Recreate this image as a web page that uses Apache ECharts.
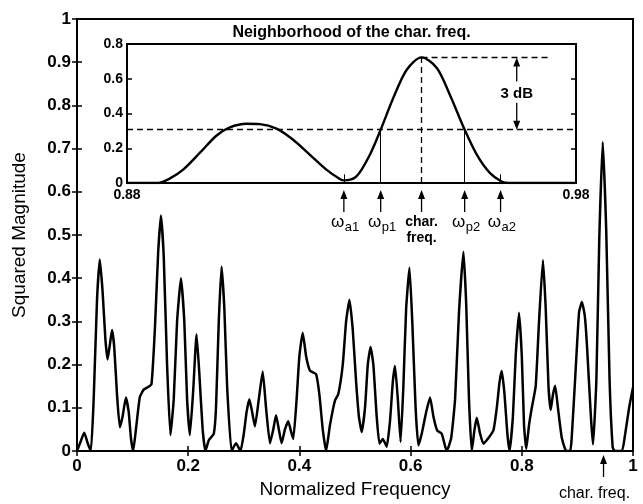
<!DOCTYPE html>
<html>
<head>
<meta charset="utf-8">
<script src="https://cdn.jsdelivr.net/npm/echarts@6/dist/echarts.min.js"></script>
<style>
  html, body { margin: 0; padding: 0; background: #fff; }
  #chart { width: 643px; height: 504px; }
</style>
</head>
<body>
<div id="chart"></div>
<script>
// full spectrum
var mainFreq = [0, 0.006, 0.013, 0.02, 0.025, 0.03, 0.036, 0.041, 0.046, 0.051, 0.055, 0.059, 0.063, 0.067, 0.072, 0.077,
  0.082, 0.088, 0.093, 0.097, 0.101, 0.106, 0.113, 0.12, 0.128, 0.134, 0.14, 0.146, 0.151, 0.156, 0.162, 0.168,
  0.174, 0.18, 0.187, 0.193, 0.198, 0.203, 0.209, 0.215, 0.22, 0.226, 0.231, 0.237, 0.246, 0.25, 0.255, 0.26,
  0.265, 0.27, 0.278, 0.286, 0.294, 0.3, 0.305, 0.31, 0.315, 0.32, 0.327, 0.334, 0.34, 0.347, 0.353, 0.358,
  0.363, 0.368, 0.374, 0.38, 0.385, 0.389, 0.395, 0.4, 0.406, 0.412, 0.419, 0.43, 0.436, 0.442, 0.448, 0.455,
  0.464, 0.47, 0.478, 0.484, 0.49, 0.496, 0.502, 0.507, 0.512, 0.518, 0.523, 0.528, 0.533, 0.539, 0.544, 0.55,
  0.557, 0.563, 0.568, 0.572, 0.577, 0.582, 0.587, 0.592, 0.598, 0.603, 0.609, 0.614, 0.62, 0.628, 0.635, 0.641,
  0.648, 0.656, 0.665, 0.673, 0.68, 0.687, 0.695, 0.7, 0.705, 0.71, 0.715, 0.719, 0.725, 0.731, 0.74, 0.749,
  0.755, 0.76, 0.764, 0.769, 0.774, 0.778, 0.784, 0.789, 0.795, 0.8, 0.804, 0.808, 0.813, 0.818, 0.825, 0.831,
  0.838, 0.843, 0.848, 0.852, 0.856, 0.86, 0.865, 0.872, 0.88, 0.887, 0.8895, 0.8962, 0.9029, 0.908, 0.9133, 0.917,
  0.9244, 0.928, 0.9341, 0.9393, 0.9456, 0.9519, 0.9579, 0.9634, 0.967, 0.98, 0.986, 0.993, 1];
var mainMag = [0, 0.02, 0.042, 0.015, 0, 0.12, 0.35, 0.443, 0.37, 0.26, 0.212, 0.245, 0.28, 0.24, 0.13, 0.055,
  0.08, 0.124, 0.09, 0.03, 0, 0.05, 0.125, 0.142, 0.148, 0.155, 0.28, 0.46, 0.545, 0.45, 0.2, 0.037,
  0.12, 0.3, 0.4, 0.3, 0.12, 0.037, 0.14, 0.27, 0.18, 0.05, 0, 0.025, 0.04, 0.1, 0.3, 0.427,
  0.33, 0.15, 0, 0.018, 0, 0.04, 0.09, 0.12, 0.09, 0.057, 0.12, 0.184, 0.1, 0.018, 0.05, 0.083,
  0.05, 0.018, 0.05, 0.069, 0.045, 0.028, 0.12, 0.22, 0.274, 0.22, 0.186, 0.178, 0.13, 0.05, 0, 0.06,
  0.117, 0.132, 0.2, 0.3, 0.35, 0.28, 0.16, 0.08, 0.044, 0.1, 0.2, 0.241, 0.2, 0.08, 0.017, 0.028,
  0.01, 0.07, 0.16, 0.197, 0.12, 0.021, 0.15, 0.33, 0.424, 0.3, 0.1, 0.013, 0.04, 0.09, 0.124, 0.08,
  0.047, 0.04, 0, 0.03, 0.12, 0.32, 0.461, 0.34, 0.12, 0, 0.05, 0.077, 0.04, 0.017, 0.03, 0.048,
  0.1, 0.16, 0.185, 0.13, 0.04, 0, 0.08, 0.22, 0.32, 0.22, 0.06, 0.005, 0.06, 0.1, 0.15, 0.3,
  0.442, 0.33, 0.15, 0.095, 0.13, 0.151, 0.1, 0.03, 0, 0, 0.025, 0.173, 0.32, 0.345, 0.313, 0.249,
  0.077, 0.015, 0.163, 0.489, 0.715, 0.508, 0.163, 0.009, 0, 0, 0.04, 0.1, 0.147];

// neighborhood of the characteristic frequency (inset)
var insetFreq = [0.88, 0.8869, 0.8895, 0.8925, 0.8962, 0.8999, 0.9029, 0.9066, 0.9096, 0.9133, 0.917, 0.9207,
  0.9244, 0.9274, 0.9283, 0.9311, 0.9341, 0.9365, 0.9393, 0.9423, 0.9456, 0.949, 0.9519, 0.9552, 0.9579,
  0.9608, 0.9634, 0.965, 0.98];
var insetMag = [0, 0, 0.025, 0.077, 0.173, 0.272, 0.32, 0.341, 0.339, 0.313, 0.249, 0.163,
  0.077, 0.023, 0.015, 0.038, 0.163, 0.307, 0.489, 0.652, 0.723, 0.662, 0.508, 0.307, 0.163,
  0.058, 0.009, 0, 0];
var insetXLabels = [0.88, 0.98];

// annotated frequencies: wa1, wp1, char. freq., wp2, wa2
var markFreq = [0.9283, 0.9365, 0.9456, 0.9552, 0.9632];
var markSub = ['a1', 'p1', '', 'p2', 'a2'];
var passLevel = 0.307;
var peakLevel = 0.723;
var peakLineEnd = 0.9738;
var dbArrowFreq = 0.9668;
var charFreq = 0.947;

var font = "'Liberation Sans', Arial, Helvetica, sans-serif";

var mainData = mainFreq.map(function (f, i) { return [f, mainMag[i]]; });
var insetData = insetFreq.map(function (f, i) { return [f, insetMag[i]]; });

function tickAxis(grid, pos, min, max, interval) {
  return {
    type: 'value', gridIndex: grid, position: pos, min: min, max: max, interval: interval,
    axisLine: { show: false },
    axisTick: { inside: true, length: 5, lineStyle: { color: '#000', width: 1.5 } },
    axisLabel: { show: false },
    splitLine: { show: false }
  };
}

function labelStyle(size, margin) {
  return { show: true, color: '#000', fontWeight: 'bold', fontSize: size, fontFamily: font, margin: margin };
}

var xMain = tickAxis(0, 'bottom', 0, 1, 0.2);
xMain.axisLabel = labelStyle(17, 7);
xMain.name = 'Normalized Frequency';
xMain.nameLocation = 'middle';
xMain.nameGap = 29;
xMain.nameTextStyle = { color: '#000', fontSize: 19, fontFamily: font };

var yMain = tickAxis(0, 'left', 0, 1, 0.1);
yMain.axisLabel = labelStyle(17, 6);
yMain.name = 'Squared Magnitude';
yMain.nameLocation = 'middle';
yMain.nameGap = 48;
yMain.nameTextStyle = { color: '#000', fontSize: 19, fontFamily: font };

var xInset = tickAxis(1, 'bottom', 0.88, 0.98, 0.02);
xInset.axisTick = { show: false };
xInset.axisLabel = labelStyle(14, 5);
xInset.axisLabel.customValues = insetXLabels;

var yInset = tickAxis(1, 'left', 0, 0.8, 0.2);
yInset.axisLabel = labelStyle(14, 4);

function seg(x1, y1, x2, y2, dashed, width) {
  return [
    { coord: [x1, y1], lineStyle: { color: '#000', type: dashed ? [6, 4] : 'solid', width: width } },
    { coord: [x2, y2] }
  ];
}

var chart = echarts.init(document.getElementById('chart'), null, { renderer: 'canvas' });

chart.setOption({
  animation: false,
  backgroundColor: '#fff',
  grid: [
    { left: 77, top: 19, width: 556, height: 435, show: true, borderColor: '#000', borderWidth: 2, backgroundColor: 'transparent' },
    { left: 127, top: 44, width: 449, height: 139, show: true, borderColor: '#000', borderWidth: 2, backgroundColor: '#fff' }
  ],
  xAxis: [xMain, tickAxis(0, 'top', 0, 1, 0.2), xInset],
  yAxis: [yMain, tickAxis(0, 'right', 0, 1, 0.1), yInset, tickAxis(1, 'right', 0, 0.8, 0.2)],
  series: [
    {
      type: 'line', xAxisIndex: 0, yAxisIndex: 0, data: mainData,
      symbol: 'none', smooth: 0.15, lineStyle: { color: '#000', width: 2.5 }, z: 3
    },
    {
      type: 'line', xAxisIndex: 2, yAxisIndex: 2, data: insetData,
      symbol: 'none', smooth: 0.3, lineStyle: { color: '#000', width: 2.4 }, z: 5,
      markLine: {
        silent: true, symbol: ['none', 'none'], label: { show: false },
        data: [
          seg(0.88, passLevel, 0.98, passLevel, true, 1.3),
          seg(markFreq[2], peakLevel, peakLineEnd, peakLevel, true, 1.3),
          seg(markFreq[2], 0, markFreq[2], peakLevel, true, 1.3),
          seg(markFreq[1], 0, markFreq[1], passLevel, false, 1),
          seg(markFreq[3], 0, markFreq[3], passLevel, false, 1),
          seg(markFreq[0], 0, markFreq[0], 0.05, false, 1),
          seg(markFreq[4], 0, markFreq[4], 0.05, false, 1)
        ]
      }
    }
  ]
});

// annotations placed through the axes' own scales
function toPx(series, x, y) { return chart.convertToPixel({ seriesIndex: series }, [x, y]); }

function arrow(x, yTip, yTail) {
  var dir = yTail > yTip ? 1 : -1;
  return [
    { type: 'line', shape: { x1: x, y1: yTail, x2: x, y2: yTip + dir * 6 }, style: { stroke: '#000', lineWidth: 1.3 } },
    { type: 'polygon', shape: { points: [[x, yTip], [x - 3.5, yTip + dir * 9], [x + 3.5, yTip + dir * 9]] }, style: { fill: '#000' } }
  ];
}

var g = [];
var base = toPx(1, 0.88, 0)[1];
markFreq.forEach(function (f, i) {
  var x = toPx(1, f, 0)[0];
  g = g.concat(arrow(x, base + 7, base + 29));
  if (markSub[i]) {
    g.push({ type: 'text', x: x + 0.5, y: base + 39, style: { text: 'ω', fill: '#000', font: '17px ' + font, textAlign: 'right', textVerticalAlign: 'middle' } });
    g.push({ type: 'text', x: x + 1, y: base + 44, style: { text: markSub[i], fill: '#000', font: '13px ' + font, textAlign: 'left', textVerticalAlign: 'middle' } });
  } else {
    g.push({ type: 'text', x: x, y: base + 39, style: { text: 'char.', fill: '#000', font: 'bold 14px ' + font, textAlign: 'center', textVerticalAlign: 'middle' } });
    g.push({ type: 'text', x: x, y: base + 55, style: { text: 'freq.', fill: '#000', font: 'bold 14px ' + font, textAlign: 'center', textVerticalAlign: 'middle' } });
  }
});

// 3 dB double arrow
var dbTop = toPx(1, dbArrowFreq, peakLevel);
var dbBot = toPx(1, dbArrowFreq, passLevel);
g = g.concat(arrow(dbTop[0], dbTop[1], dbTop[1] + 24));
g = g.concat(arrow(dbBot[0], dbBot[1], dbBot[1] - 27));
g.push({ type: 'text', x: dbTop[0], y: (dbTop[1] + dbBot[1]) / 2, style: { text: '3 dB', fill: '#000', font: 'bold 15px ' + font, textAlign: 'center', textVerticalAlign: 'middle' } });

// inset title
var insetLeft = toPx(1, 0.88, 0.8);
var insetRight = toPx(1, 0.98, 0.8);
g.push({ type: 'text', x: (insetLeft[0] + insetRight[0]) / 2, y: insetLeft[1] - 11, style: { text: 'Neighborhood of the char. freq.', fill: '#000', font: 'bold 16px ' + font, textAlign: 'center', textVerticalAlign: 'middle' } });

// char. freq. marker under the main axis
var cf = toPx(0, charFreq, 0);
g = g.concat(arrow(cf[0], cf[1] + 4, cf[1] + 26));
g.push({ type: 'text', x: cf[0] - 9, y: cf[1] + 43, style: { text: 'char. freq.', fill: '#000', font: '16px ' + font, textAlign: 'center', textVerticalAlign: 'middle' } });

chart.setOption({ graphic: g.map(function (el) { el.silent = true; el.z = 10; return el; }) });
</script>
</body>
</html>
